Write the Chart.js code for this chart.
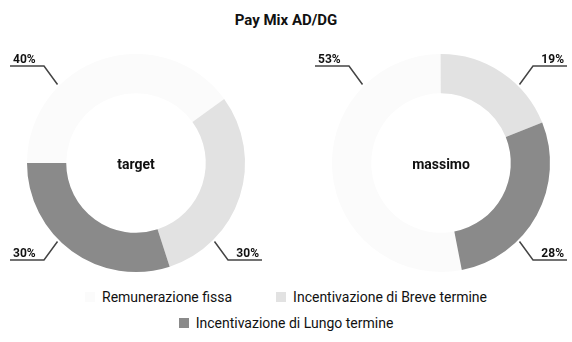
<!DOCTYPE html>
<html>
<head>
<meta charset="utf-8">
<script src="https://cdn.jsdelivr.net/npm/chart.js@4.4.1/dist/chart.umd.min.js"></script>
<style>
  html, body { margin: 0; padding: 0; background: #fff; }
  #wrap { position: relative; width: 572px; height: 342px; font-family: Roboto, sans-serif; color: #111; }
  #title { position: absolute; left: 0; top: 11px; width: 572px; text-align: center; font-weight: bold; font-size: 15px; }
  .pie { position: absolute; top: 40px; width: 286px; height: 240px; }
  #legend { position: absolute; left: 0; top: 284px; width: 572px; display: flex; flex-wrap: wrap; justify-content: center; font-size: 14px; }
  #legend .item { display: flex; align-items: center; height: 26px; margin: 0 22px; }
  #legend .box { width: 10px; height: 10px; margin-right: 7px; }
</style>
</head>
<body>
<div id="wrap">
  <div id="title">Pay Mix AD/DG</div>
  <div class="pie" style="left:0"><canvas id="target"></canvas></div>
  <div class="pie" style="left:286px"><canvas id="massimo"></canvas></div>
  <div id="legend"></div>
</div>
<script>
const categories = ['Remunerazione fissa', 'Incentivazione di Breve termine', 'Incentivazione di Lungo termine'];
const targetValues = [40, 30, 30];
const massimoValues = [53, 19, 28];

const colors = ['#fbfbfb', '#e2e2e2', '#8a8a8a'];

// percentage callouts on the diagonals, each pointing at the slice it crosses
const calloutLabels = {
  id: 'calloutLabels',
  afterDatasetsDraw(chart) {
    const ctx = chart.ctx;
    const meta = chart.getDatasetMeta(0);
    const values = chart.data.datasets[0].data;
    const corners = [-3 * Math.PI / 4, -Math.PI / 4, Math.PI / 4, 3 * Math.PI / 4];
    const used = new Set();
    const TAU = 2 * Math.PI;
    ctx.save();
    corners.forEach(a => {
      const i = meta.data.findIndex((arc, k) => {
        if (used.has(k)) return false;
        const d = (((a - arc.startAngle) % TAU) + TAU) % TAU;
        return d < arc.endAngle - arc.startAngle;
      });
      if (i < 0) return;
      used.add(i);
      const arc = meta.data[i];
      const sx = Math.cos(a) < 0 ? -1 : 1;
      const sy = Math.sin(a) < 0 ? -1 : 1;
      const r = arc.outerRadius + 2;
      const x0 = arc.x + r * Math.cos(a), y0 = arc.y + r * Math.sin(a);
      const x1 = arc.x + sx * 92, y1 = arc.y + sy * 97;
      const x2 = arc.x + sx * 126;
      ctx.strokeStyle = '#444';
      ctx.lineWidth = 1.5;
      ctx.beginPath();
      ctx.moveTo(x0, y0);
      ctx.lineTo(x1, y1);
      ctx.lineTo(x2, y1);
      ctx.stroke();
      ctx.fillStyle = '#111';
      ctx.font = 'bold 12px Roboto, sans-serif';
      ctx.textBaseline = 'alphabetic';
      ctx.textAlign = sx < 0 ? 'left' : 'right';
      ctx.fillText(values[i] + '%', x2 - sx * 3, y1 - 3);
    });
    ctx.restore();
  }
};

const centerText = {
  id: 'centerText',
  afterDraw(chart, args, opts) {
    const arc = chart.getDatasetMeta(0).data[0];
    const ctx = chart.ctx;
    ctx.save();
    ctx.fillStyle = '#111';
    ctx.font = 'bold 14px Roboto, sans-serif';
    ctx.textAlign = 'center';
    ctx.textBaseline = 'middle';
    ctx.fillText(opts.text, arc.x, arc.y + 2);
    ctx.restore();
  }
};

function makePie(id, values, rotation, padding) {
  return new Chart(document.getElementById(id), {
    type: 'doughnut',
    data: {
      labels: categories,
      datasets: [{
        data: values,
        backgroundColor: colors,
        borderWidth: 0,
        hoverOffset: 0
      }]
    },
    options: {
      responsive: true,
      maintainAspectRatio: false,
      animation: false,
      rotation: rotation,
      cutout: '64%',
      layout: { padding: padding },
      events: [],
      plugins: {
        legend: { display: false },
        tooltip: { enabled: false },
        centerText: { text: id }
      }
    },
    plugins: [calloutLabels, centerText]
  });
}

makePie('target', targetValues, -90, { left: 27, right: 41, top: 14, bottom: 8 });
makePie('massimo', massimoValues, 169, { left: 46, right: 22, top: 14, bottom: 8 });

const legend = document.getElementById('legend');
categories.forEach((name, i) => {
  const item = document.createElement('div');
  item.className = 'item';
  const box = document.createElement('span');
  box.className = 'box';
  box.style.background = colors[i];
  const label = document.createElement('span');
  label.textContent = name;
  item.appendChild(box);
  item.appendChild(label);
  legend.appendChild(item);
});
</script>
</body>
</html>
